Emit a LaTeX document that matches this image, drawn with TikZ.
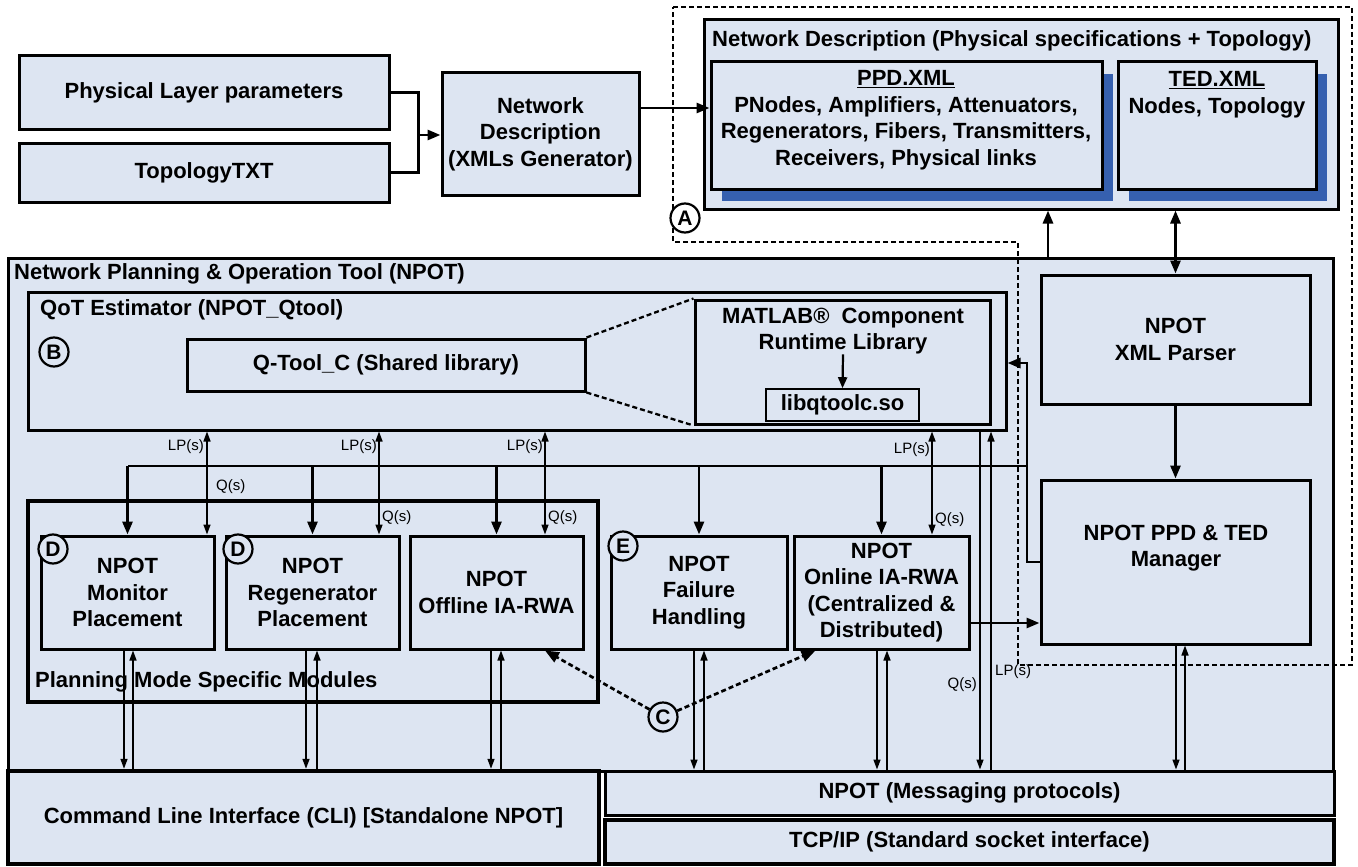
\documentclass[tikz,border=0pt]{standalone}
\usepackage{fontspec}
\setmainfont{Liberation Sans}
\usetikzlibrary{arrows.meta,calc,shadows}
\definecolor{panel}{RGB}{221,229,242}
\definecolor{deepblue}{RGB}{54,96,175}

% box from its corner coordinates: [style]{name}{x1}{y1}{x2}{y2}{text}
\newcommand\mkbox[7][blk]{%
  \pgfmathsetmacro\mkcx{(#3+#5)/2}%
  \pgfmathsetmacro\mkcy{(#4+#6)/2}%
  \pgfmathsetmacro\mkw{#5-#3}%
  \pgfmathsetmacro\mkh{#6-#4}%
  \node[#1, minimum width=\mkw pt, minimum height=\mkh pt] (#2) at (\mkcx,\mkcy) {#7};}

\begin{document}
\begin{tikzpicture}[x=1pt,y=-1pt,line join=miter,
  txt/.style={font=\bfseries\fontsize{22}{26.5}\selectfont, align=center, inner sep=0pt},
  blk/.style={txt, draw, line width=3pt, fill=panel},
  heavy/.style={blk, line width=4.5pt},
  fine/.style={blk, line width=1.6pt},
  note/.style={font=\fontsize{15}{17}\selectfont, inner sep=0pt},
  tag/.style={circle, draw, line width=2.2pt, fill=panel, minimum size=29pt, inner sep=0pt, font=\bfseries\fontsize{21}{21}\selectfont},
  wire/.style={line width=2.8pt},
  flow/.style={wire, -{Triangle[length=13pt,width=10pt]}},
  flowboth/.style={wire, {Triangle[length=13pt,width=10pt]}-{Triangle[length=13pt,width=10pt]}},
  link/.style={line width=1.5pt, -{Triangle[length=10pt,width=7pt]}},
  linkboth/.style={line width=1.5pt, {Triangle[length=10pt,width=7pt]}-{Triangle[length=10pt,width=7pt]}},
  region/.style={line width=2.7pt, dash pattern=on 5pt off 3pt},
  pointer/.style={region, -{Triangle[length=14pt,width=11pt]}},
  blueshadow/.style={general shadow={draw=none, fill=deepblue, shadow xshift=11pt, shadow yshift=-12pt}},
]
\fill[white] (0,0) rectangle (1358,867);
\useasboundingbox (0,0) rectangle (1358,867);

% ---- input files and XML generator
\mkbox{plp}{19}{56}{389}{129}{Physical Layer parameters}
\mkbox{topo}{19}{143}{389}{202}{TopologyTXT}
\mkbox{gen}{442}{73}{639}{195}{Network\\Description\\(XMLs Generator)}

% ---- network description files
\mkbox{nd}{704}{20}{1338}{209}{}
\node[txt, anchor=west] (ndtitle) at (712,41) {Network Description (Physical specifications + Topology)};
\mkbox[blk,blueshadow]{ppd}{711}{62}{1102}{189}{}
\node[txt] (ppdtxt) at (906,120) {\underline{PPD.XML}\\PNodes, Amplifiers, Attenuators,\\Regenerators, Fibers, Transmitters,\\Receivers, Physical links};
\mkbox[blk,blueshadow]{ted}{1118}{62}{1316}{189}{}
\node[txt] (tedtxt) at (1217,95) {\underline{TED.XML}\\Nodes, Topology};

% ---- NPOT
\mkbox{npot}{8}{258}{1333}{771}{}
\node[txt, anchor=west] (npottitle) at (14,274) {Network Planning \& Operation Tool (NPOT)};

\mkbox{qot}{28}{292}{1006}{430}{}
\node[txt, anchor=west] (qottitle) at (40,310) {QoT Estimator (NPOT\_Qtool)};
\mkbox{qtool}{187}{339}{585}{391}{Q-Tool\_C (Shared library)}
\mkbox{matlab}{695}{300}{990}{424}{}
\node[txt] (mattxt) at (843,331) {MATLAB®\ \ Component\\Runtime Library};
\mkbox[fine]{lib}{766}{389}{919}{421}{libqtoolc.so}

\mkbox{parser}{1041}{275}{1310}{404}{NPOT\\XML Parser}
\mkbox{mgr}{1041}{480}{1310}{644}{}
\node[txt] (mgrtxt) at (1176,548) {NPOT PPD \& TED\\Manager};

\mkbox[heavy]{plan}{28}{501}{598}{702}{}
\node[txt, anchor=west] (plantitle) at (35,682) {Planning Mode Specific Modules};
\mkbox{mon}{41}{536}{214}{649}{NPOT\\Monitor\\Placement}
\mkbox{reg}{226}{536}{399}{649}{NPOT\\Regenerator\\Placement}
\mkbox{off}{410}{536}{583}{649}{NPOT\\Offline IA-RWA}
\mkbox{fail}{611}{536}{787}{649}{NPOT\\Failure\\Handling}
\mkbox{onl}{794}{536}{969}{649}{NPOT\\Online IA-RWA\\(Centralized \&\\Distributed)}

\mkbox[heavy]{cli}{8}{771}{599}{864}{Command Line Interface (CLI) [Standalone NPOT]}
\mkbox{msg}{605}{771}{1334}{815}{NPOT (Messaging protocols)}
\mkbox[heavy]{tcp}{605}{820}{1334}{864}{TCP/IP (Standard socket interface)}

% ---- connectors: file generation
\draw[wire, line width=2.4pt] (plp.east) -- ++(28,0) |- (topo.east);
\coordinate (join) at (417,135);
\draw[flow] (join) -- (gen.west |- join);
\coordinate (hXml) at (0,108);
\draw[flow] (gen.east |- hXml) -- (ppd.west |- hXml);
\coordinate (vUp) at (1048,0);
\draw[flow] (npot.north -| vUp) -- (nd.south -| vUp);
\draw[flowboth] (parser.north |- nd.south) -- (parser.north);
\draw[flow] (parser.south) -- (mgr.north);

% ---- QoT internals
\draw[region, line width=2.3pt] (qtool.north east) -- (matlab.north west);
\draw[region, line width=2.3pt] (qtool.south east) -- (matlab.south west);
\draw[wire, line width=2.2pt, -{Triangle[length=11pt,width=9pt]}] (mattxt.south) -- (lib.north);

% ---- manager distribution bus
\coordinate (hMgr) at (1027,562);
\coordinate (hQot) at (1027,363);
\coordinate (hBus) at (1027,466);
\draw[flow] (mgr.west |- hMgr) -- (hMgr) -- (hQot) -- (qot.east |- hQot);
\draw[wire] (hBus) -- (mon.north |- hBus);
\foreach \m in {mon,reg,off,fail,onl} \draw[flow] (\m.north |- hBus) -- (\m.north);
\coordinate (hOnl) at (0,623);
\draw[flow] (onl.east |- hOnl) -- (mgr.west |- hOnl);

% ---- lightpath / Q-factor exchanges
\coordinate (q1) at (207,0);
\coordinate (q2) at (379,0);
\coordinate (q3) at (545,0);
\coordinate (q4) at (932,0);
\coordinate (q5) at (980,0);
\coordinate (q6) at (991,0);
\draw[linkboth] (qot.south -| q1) -- (mon.north -| q1);
\draw[linkboth] (qot.south -| q2) -- (reg.north -| q2);
\draw[linkboth] (qot.south -| q3) -- (off.north -| q3);
\draw[linkboth] (qot.south -| q4) -- (onl.north -| q4);
\draw[link] (qot.south -| q5) -- (msg.north -| q5);
\draw[link] (msg.north -| q6) -- (qot.south -| q6);

\node[note, anchor=east] (lp1) at (204,447) {LP(s)};
\node[note, anchor=west] (qs1) at (216,487) {Q(s)};
\node[note, anchor=east] (lp2) at (377,447) {LP(s)};
\node[note, anchor=west] (qs2) at (382,518) {Q(s)};
\node[note, anchor=east] (lp3) at (543,447) {LP(s)};
\node[note, anchor=west] (qs3) at (548,518) {Q(s)};
\node[note, anchor=east] (lp4) at (930,450) {LP(s)};
\node[note, anchor=west] (qs4) at (935,520) {Q(s)};
\node[note, anchor=east] (qs5) at (977,685) {Q(s)};
\node[note, anchor=west] (lp5) at (995,672) {LP(s)};

% ---- modules to the interfaces below
\foreach \m/\a/\b/\t in {mon/124/133/cli, reg/306/317/cli, off/491/501/cli,
                         fail/694/704/msg, onl/877/887/msg, mgr/1176/1185/msg} {
  \coordinate (da) at (\a,0);
  \coordinate (db) at (\b,0);
  \draw[link] (\m.south -| da) -- (\t.north -| da);
  \draw[link] (\t.north -| db) -- (\m.south -| db);
}

% ---- region A (file based network description)
\draw[region] (673,7) -- (1352,7) -- (1352,665) -- (1018,665) -- (1018,242) -- (673,242) -- cycle;

% ---- markers
\node[tag, fill=white] (tagA) at (685,218) {A};
\node[tag] (tagB) at (54,352) {B};
\node[tag] (tagD1) at (53,549) {D};
\node[tag] (tagD2) at (238,549) {D};
\node[tag] (tagE) at (623,546) {E};
\node[tag] (tagC) at (663,717) {C};
\draw[pointer] (tagC) -- (off.south -| q3);
\draw[pointer] (tagC) -- ($(onl.south west)+(23,0)$);
\end{tikzpicture}
\end{document}
